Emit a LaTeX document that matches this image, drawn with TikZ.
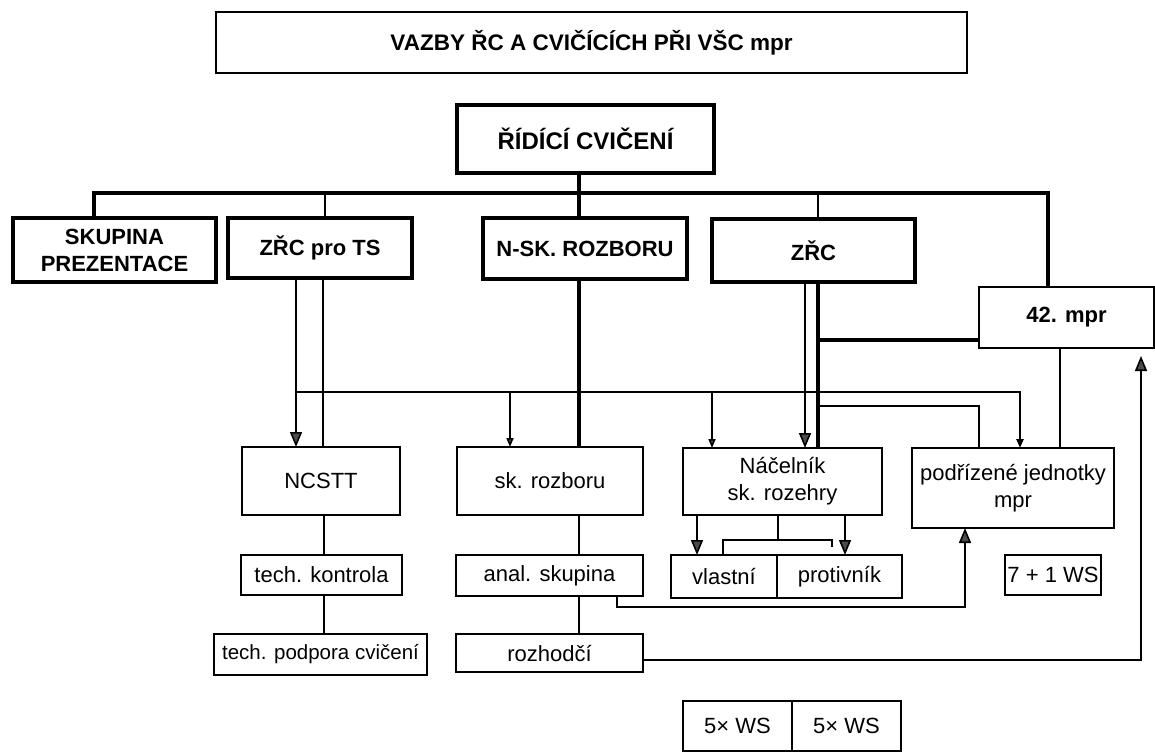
\documentclass[tikz,border=0pt]{standalone}
\usepackage{fontspec}
\setmainfont{Liberation Sans}
\usetikzlibrary{arrows.meta,calc}
\begin{document}
\begin{tikzpicture}[x=1pt,y=-1pt,
  every node/.style={inner sep=0pt, outer sep=0pt, align=center},
  titlebox/.style={draw, line width=2.4pt, font=\fontsize{22.5}{27}\selectfont\bfseries},
  bigbox/.style={draw, line width=3.5pt, font=\fontsize{22}{27}\selectfont\bfseries},
  midbox/.style={draw, line width=2.4pt, font=\fontsize{22}{27}\selectfont\bfseries},
  box/.style={draw, line width=1.8pt, font=\fontsize{22}{27}\selectfont},
  thk/.style={line width=3.5pt, line join=miter},
  med/.style={line width=2.3pt, line join=miter},
  thn/.style={line width=1.6pt, line join=miter},
  bigarr/.style={-{Triangle[width=12pt,length=15pt,fill=black!70]}},
  smallarr/.style={-{Triangle[width=7pt,length=9pt,fill=black!70]}},
]
\useasboundingbox (0,0) rectangle (1155,752);
\fill[white] (0,0) rectangle (1155,752);

% top
\node[titlebox, minimum width=751pt, minimum height=61pt] (title) at (591.5,42.5) {VAZBY ŘC A CVIČÍCÍCH PŘI VŠC mpr};
\node[bigbox, minimum width=257pt, minimum height=68pt, font=\fontsize{24}{28}\selectfont\bfseries] (ridici) at (585.5,139) {ŘÍDÍCÍ CVIČENÍ};

% second level
\node[bigbox, minimum width=203pt, minimum height=64pt] (skup) at (114.5,250) {SKUPINA\\PREZENTACE};
\node[bigbox, minimum width=184pt, minimum height=60pt] (zrcts) at (320,248) {ZŘC pro TS};
\node[bigbox, minimum width=204pt, minimum height=61pt] (nsk) at (585,248.5) {N-SK. ROZBORU};
\node[bigbox, minimum width=203pt, minimum height=63pt] (zrc) at (813.5,250.5) {ZŘC};
\node[midbox, minimum width=175pt, minimum height=61pt] (mpr) at (1066.5,317.5) {42. mpr};

% lower level
\node[box, minimum width=158pt, minimum height=68pt] (ncstt) at (321,481) {NCSTT};
\node[box, minimum width=161pt, minimum height=40pt] (techk) at (321.5,575) {tech. kontrola};
\node[box, minimum width=213pt, minimum height=41pt, font=\fontsize{20.5}{24}\selectfont] (techp) at (320.5,654.5) {tech. podpora cvičení};
\node[box, minimum width=186pt, minimum height=68pt] (skroz) at (550,481) {sk. rozboru};
\node[box, minimum width=187pt, minimum height=41pt] (anal) at (549.5,575.5) {anal. skupina};
\node[box, minimum width=187pt, minimum height=38pt] (rozh) at (549.5,653) {rozhodčí};
\node[box, minimum width=199pt, minimum height=67pt] (nacel) at (782.5,481.5) {Náčelník\\sk. rozehry};
\node[box, minimum width=106pt, minimum height=43pt] (vlast) at (724,576.5) {vlastní};
\node[box, minimum width=125pt, minimum height=43pt] (protiv) at (839.5,576.5) {protivník};
\node[box, minimum width=202pt, minimum height=80pt] (podr) at (1013,488) {podřízené jednotky\\mpr};
\node[box, minimum width=96pt, minimum height=40pt] (ws71) at (1053,575) {7 + 1 WS};
\node[box, minimum width=109pt, minimum height=50pt] (wsa) at (737.5,726) {5× WS};
\node[box, minimum width=109pt, minimum height=50pt] (wsb) at (846.5,726) {5× WS};

% bus
\coordinate (bl) at (94,193);
\coordinate (br) at (1048,193);
\coordinate (b2) at (325,193);
\coordinate (cl) at (579,193);
\coordinate (b4) at (818,193);
\draw[thk] (skup.north -| bl) -- (bl) -- (br) -- (mpr.north -| br);
\draw[med] (b2) -- (zrcts.north -| b2);
\draw[thk] (ridici.south -| cl) -- (nsk.north -| cl);
\draw[med] (b4) -- (zrc.north -| b4);

% centre column
\draw[thk] (nsk.south -| cl) -- (skroz.north -| cl);
\draw[thn] (skroz.south -| cl) -- (anal.north -| cl);
\draw[thn] (anal.south -| cl) -- (rozh.north -| cl);

% ZRC pro TS
\coordinate (a1) at (296,392);
\coordinate (a2) at (323,392);
\draw[thn, bigarr] (zrcts.south -| a1) -- (ncstt.north -| a1);
\draw[med] (zrcts.south -| a2) -- (ncstt.north -| a2);

% horizontal distribution line
\coordinate (h2) at (1020,392);
\coordinate (h3) at (510,392);
\coordinate (h4) at (712,392);
\draw[med, smallarr] (a1) -- (h2) -- (podr.north -| h2);
\draw[thn, smallarr] (h3) -- (skroz.north -| h3);
\draw[thn, smallarr] (h4) -- (nacel.north -| h4);

% ZRC
\coordinate (z1) at (805,340);
\coordinate (z2) at (818,340);
\coordinate (z3) at (818,406);
\coordinate (z4) at (979,406);
\coordinate (m1) at (1060,400);
\draw[thn, bigarr] (zrc.south -| z1) -- (nacel.north -| z1);
\draw[thk] (zrc.south -| z2) -- (nacel.north -| z2);
\draw[thk] (z2) -- (z2 -| mpr.west);
\draw[med] (z3) -- (z4) -- (podr.north -| z4);
\draw[thn] (mpr.south -| m1) -- (podr.north -| m1);

% NCSTT chain
\coordinate (t1) at (324,550);
\draw[thn] (ncstt.south -| t1) -- (techk.north -| t1);
\draw[thn] (techk.south -| t1) -- (techp.north -| t1);

% Nacelnik
\coordinate (n1) at (697,540);
\coordinate (n2) at (845,540);
\coordinate (n3) at (778,540);
\coordinate (n4) at (723,540);
\coordinate (n5) at (832,540);
\coordinate (n6) at (832,547);
\draw[thn, bigarr] (nacel.south -| n1) -- (vlast.north -| n1);
\draw[thn, bigarr] (nacel.south -| n2) -- (protiv.north -| n2);
\draw[thn] (nacel.south -| n3) -- (n3);
\draw[thn] (vlast.north -| n4) -- (n4) -- (n5) -- (n6);

% anal -> podr
\coordinate (p1) at (617,607);
\coordinate (p2) at (965,607);
\draw[thn, bigarr] (anal.south -| p1) -- (p1) -- (p2) -- (podr.south -| p2);

% rozhodci -> 42. mpr
\coordinate (r1) at (1141,660);
\draw[thn, bigarr, shorten >=8pt] (rozh.east |- r1) -- (r1) -- (mpr.south -| r1);
\end{tikzpicture}
\end{document}
